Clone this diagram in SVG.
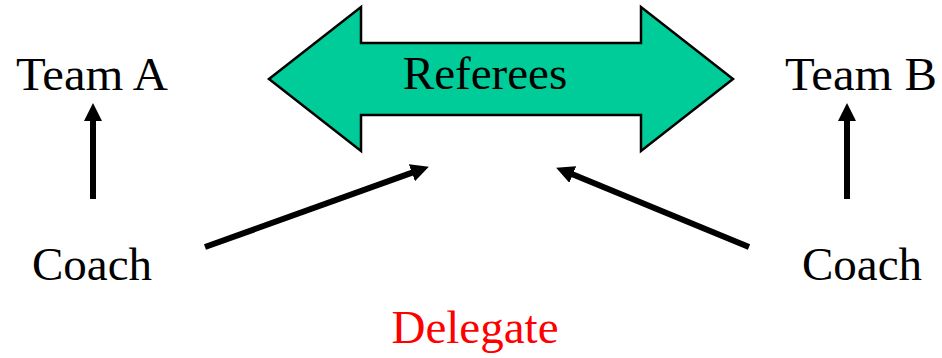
<svg xmlns="http://www.w3.org/2000/svg" width="942" height="358" viewBox="0 0 942 358">
<style>
.t{font-family:"Liberation Serif","Times New Roman",serif;font-size:47px;fill:#000}
.red{fill:#FF0000}
.c{stroke:#000;stroke-width:6;fill:none}
</style>
<defs>
<marker id="ah" markerUnits="userSpaceOnUse" markerWidth="18" markerHeight="18" refX="1" refY="8.5" orient="auto" viewBox="0 0 17 17">
<path d="M0,0 L17,8.5 L0,17 z" fill="#000"/>
</marker>
</defs>
<rect width="942" height="358" fill="#fff"/>
<g id="referees">
<polygon points="269,79 361,7 361,43 641,43 641,7 733,79 641,151 641,115 361,115 361,151" fill="#00CC99" stroke="#000" stroke-width="2.5" stroke-linejoin="miter"/>
<text class="t" x="485" y="89" text-anchor="middle">Referees</text>
</g>
<g id="teamA"><text class="t" x="16" y="90" textLength="152" lengthAdjust="spacingAndGlyphs">Team A</text></g>
<g id="teamB"><text class="t" x="785" y="90" textLength="152" lengthAdjust="spacingAndGlyphs">Team B</text></g>
<g id="coachA"><text class="t" x="32" y="280">Coach</text></g>
<g id="coachB"><text class="t" x="802" y="280">Coach</text></g>
<g id="delegate"><text class="t red" x="475" y="343" text-anchor="middle">Delegate</text></g>
<g id="connectors">
<line class="c" x1="93" y1="199" x2="93" y2="120" marker-end="url(#ah)"/>
<line class="c" x1="847" y1="199" x2="847" y2="120" marker-end="url(#ah)"/>
<line class="c" x1="205" y1="247" x2="412.9" y2="172.4" marker-end="url(#ah)"/>
<line class="c" x1="749" y1="247" x2="571.8" y2="174.1" marker-end="url(#ah)"/>
</g>
</svg>
